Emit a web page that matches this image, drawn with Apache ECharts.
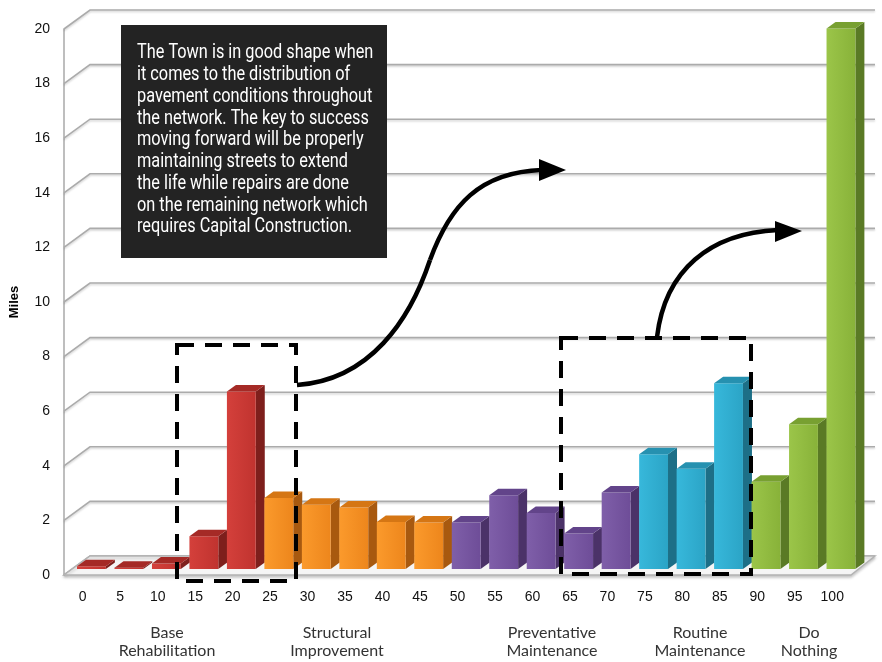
<!DOCTYPE html>
<html>
<head>
<meta charset="utf-8">
<script src="https://cdn.jsdelivr.net/npm/echarts@6/dist/echarts.min.js"></script>
<style>html,body{margin:0;padding:0;background:#fff;}#c{width:882px;height:662px;}</style>
</head>
<body>
<div id="c"></div>
<script>
// ---- data ----
const categories = ['0','5','10','15','20','25','30','35','40','45','50','55','60','65','70','75','80','85','90','95','100'];
const miles = [0.1,0.05,0.2,1.2,6.5,2.6,2.35,2.25,1.72,1.7,1.7,2.7,2.05,1.3,2.8,4.2,3.67,6.8,3.2,5.3,19.8];
const barGroup = [0,0,0,0,0,1,1,1,1,1,2,2,2,2,2,3,3,3,4,4,4];
const yTicks = [0,2,4,6,8,10,12,14,16,18,20];
const groupNames = ['Base\nRehabilitation','Structural\nImprovement','Preventative\nMaintenance','Routine\nMaintenance','Do\nNothing'];
const note = 'The Town is in good shape when\nit comes to the distribution of\npavement conditions throughout\nthe network. The key to success\nmoving forward will be properly\nmaintaining streets to extend\nthe life while repairs are done\non the remaining network which\nrequires Capital Construction.';

// ---- styles ----
const palette = [
  {front:['#d4403b','#c0332f'], side:'#7e1f1c', top:'#a52a26'},
  {front:['#fb9a2c','#ed861c'], side:'#a8590f', top:'#d57614'},
  {front:['#7f5fa9','#6e4d98'], side:'#4b3268', top:'#62448a'},
  {front:['#37b8db','#2ba4c6'], side:'#1d6f87', top:'#2691b0'},
  {front:['#9bc549','#88b239'], side:'#5a7a25', top:'#78a031'}
];
const DEPTH_X = 26, DEPTH_Y = -19;
const BAR_DX = 8.7, BAR_DY = -6;
const SIDE_X = 9, SIDE_Y = -6.5;
const BACK_RIGHT_EXTRA = 24;

const chart = echarts.init(document.getElementById('c'), null, {renderer:'canvas'});

const barData = categories.map((c,i)=>[i, miles[i], barGroup[i]]);

function grad(a,b){
  return {type:'linear', x:0, y:0, x2:1, y2:0, colorStops:[{offset:0,color:a},{offset:1,color:b}]};
}

const option = {
  animation:false,
  backgroundColor:'#fff',
  grid:{left:61, right:31, top:29, bottom:87},
  xAxis:{
    type:'category', data:categories, boundaryGap:true,
    axisLine:{show:false}, axisTick:{show:false},
    axisLabel:{color:'#111', fontSize:14, fontFamily:'Liberation Sans', margin:15, interval:0}
  },
  yAxis:{
    type:'value', min:0, max:20, interval:2,
    name:'Miles', nameLocation:'middle', nameGap:43,
    nameTextStyle:{fontWeight:'bold', fontSize:13, color:'#000', fontFamily:'Liberation Sans'},
    axisLine:{show:true, lineStyle:{color:'#a8a8a8', width:1.5}},
    axisTick:{show:false},
    splitLine:{show:false},
    axisLabel:{color:'#111', fontSize:14, fontFamily:'Liberation Sans', margin:14}
  },
  series:[
    {
      type:'custom', clip:false, z:1,
      data:yTicks.map(v=>[0,v]),
      renderItem:function(params, api){
        const cs = params.coordSys;
        const y = api.coord([0, api.value(1)])[1];
        return {type:'polyline', shape:{points:[[cs.x, y],[cs.x+DEPTH_X, y+DEPTH_Y],[cs.x+cs.width+BACK_RIGHT_EXTRA, y+DEPTH_Y]]},
          style:{stroke:'#ababab', lineWidth:1.6, fill:null, shadowColor:'rgba(0,0,0,0.18)', shadowBlur:2, shadowOffsetY:1.5}};
      }
    },
    {
      type:'custom', clip:false, z:2,
      data:[[0,0]],
      renderItem:function(params, api){
        const cs = params.coordSys;
        const y0 = api.coord([0,0])[1];
        return {type:'polygon', shape:{points:[[cs.x,y0],[cs.x+cs.width,y0],[cs.x+cs.width+BACK_RIGHT_EXTRA,y0+DEPTH_Y],[cs.x+DEPTH_X,y0+DEPTH_Y]]},
            style:{fill:'#f5f5f5', stroke:'#b3b3b3', lineWidth:1.4, shadowColor:'rgba(0,0,0,0.2)', shadowBlur:3, shadowOffsetY:2}};
      }
    },
    {
      type:'custom', clip:false, z:3,
      data:barData,
      renderItem:function(params, api){
        const i = api.value(0), v = api.value(1), g = api.value(2);
        const p0 = api.coord([i,0]), p1 = api.coord([i,v]);
        const band = api.size([1,0])[0];
        const w = band*0.77;
        const cx = p0[0] + BAR_DX;
        const base = p0[1] + BAR_DY, top = p1[1] + BAR_DY;
        const l = cx - w/2, r = cx + w/2;
        const pal = palette[g];
        return {type:'group', children:[
          {type:'polygon', shape:{points:[[r,base],[r+SIDE_X,base+SIDE_Y],[r+SIDE_X,top+SIDE_Y],[r,top]]}, style:{fill:pal.side}},
          {type:'rect', shape:{x:l, y:top, width:w, height:Math.max(base-top,0)}, style:{fill:grad(pal.front[0], pal.front[1])}},
          {type:'polygon', shape:{points:[[l,top],[r,top],[r+SIDE_X,top+SIDE_Y],[l+SIDE_X,top+SIDE_Y]]}, style:{fill:pal.top}}
        ]};
      }
    }
  ],
  graphic:[
    {type:'rect', z:10, shape:{x:177, y:345, width:119, height:236}, style:{fill:null, stroke:'#000', lineWidth:4, lineDash:[17,11]}},
    {type:'rect', z:10, shape:{x:561, y:338, width:190, height:236}, style:{fill:null, stroke:'#000', lineWidth:4, lineDash:[17,11]}},
    {type:'bezierCurve', z:11, shape:{x1:297,y1:385,cpx1:370,cpy1:380,cpx2:410,cpy2:320,x2:430,y2:260}, style:{fill:null, stroke:'#000', lineWidth:4.5}},
    {type:'bezierCurve', z:11, shape:{x1:430,y1:260,cpx1:450,cpy1:205,cpx2:480,cpy2:172,x2:542,y2:170}, style:{fill:null, stroke:'#000', lineWidth:4.5}},
    {type:'polygon', z:11, shape:{points:[[566,170],[539,159],[539,181]]}, style:{fill:'#000'}},
    {type:'bezierCurve', z:11, shape:{x1:657,y1:337,cpx1:665,cpy1:270,cpx2:710,cpy2:233,x2:778,y2:230}, style:{fill:null, stroke:'#000', lineWidth:4.5}},
    {type:'polygon', z:11, shape:{points:[[802,231],[775,221],[775,242]]}, style:{fill:'#000'}},
    {type:'rect', z:12, shape:{x:121, y:25, width:266, height:233}, style:{fill:'#232323'}},
    {type:'text', z:13, x:137, y:42.5, scaleX:0.815,
      style:{text:note, fill:'#fff', font:'20px Roboto', lineHeight:21.75, verticalAlign:'top', align:'left'}},
    {type:'text', z:10, x:167, y:624, style:{text:groupNames[0], fill:'#333', font:'16px Lato', lineHeight:18, align:'center', verticalAlign:'top'}},
    {type:'text', z:10, x:337, y:624, style:{text:groupNames[1], fill:'#333', font:'16px Lato', lineHeight:18, align:'center', verticalAlign:'top'}},
    {type:'text', z:10, x:552, y:624, style:{text:groupNames[2], fill:'#333', font:'16px Lato', lineHeight:18, align:'center', verticalAlign:'top'}},
    {type:'text', z:10, x:700, y:624, style:{text:groupNames[3], fill:'#333', font:'16px Lato', lineHeight:18, align:'center', verticalAlign:'top'}},
    {type:'text', z:10, x:809, y:624, style:{text:groupNames[4], fill:'#333', font:'16px Lato', lineHeight:18, align:'center', verticalAlign:'top'}}
  ]
};
chart.setOption(option);
</script>
</body>
</html>
